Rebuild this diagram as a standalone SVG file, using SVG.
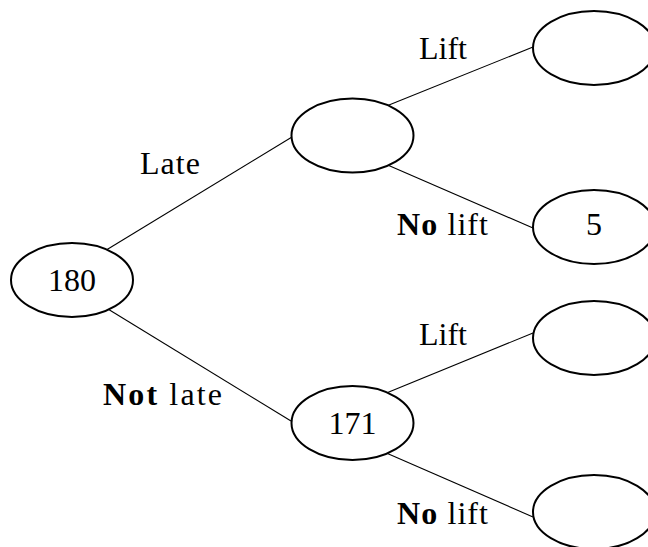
<svg xmlns="http://www.w3.org/2000/svg" width="648" height="547" viewBox="0 0 648 547">
<style>
.n{fill:#fff;stroke:#000;stroke-width:2}
.e{stroke:#000;stroke-width:1.1;fill:none}
text{font-family:"Liberation Serif","Times New Roman",serif;font-size:32px;fill:#000}
.c{text-anchor:middle}
.b{font-weight:bold}
</style>
<rect width="648" height="547" fill="#fff"/>
<g id="connectors">
<line class="e" x1="103" y1="252" x2="292" y2="137"/>
<line class="e" x1="103" y1="306" x2="291" y2="421"/>
<line class="e" x1="384" y1="107" x2="533" y2="47"/>
<line class="e" x1="383" y1="163" x2="533" y2="228"/>
<line class="e" x1="384" y1="394" x2="533" y2="333"/>
<line class="e" x1="384" y1="452" x2="533" y2="517"/>
</g>
<g id="root"><ellipse class="n" cx="72" cy="280" rx="61" ry="37"/><text class="c" x="72" y="291">180</text></g>
<g id="late"><ellipse class="n" cx="352.5" cy="135.5" rx="61" ry="37"/></g>
<g id="notlate"><ellipse class="n" cx="352.5" cy="423" rx="61" ry="37"/><text class="c" x="352.5" y="434">171</text></g>
<g id="late-lift"><ellipse class="n" cx="594" cy="48" rx="61" ry="37"/></g>
<g id="late-nolift"><ellipse class="n" cx="594" cy="227" rx="61" ry="37"/><text class="c" x="594" y="235">5</text></g>
<g id="notlate-lift"><ellipse class="n" cx="594" cy="338" rx="61" ry="37"/></g>
<g id="notlate-nolift"><ellipse class="n" cx="594" cy="512" rx="61" ry="37"/></g>
<g id="labels">
<text x="140" y="174" textLength="60">Late</text>
<text x="103" y="405" textLength="119"><tspan class="b">Not</tspan> late</text>
<text x="419" y="59" textLength="48">Lift</text>
<text x="397" y="235" textLength="91"><tspan class="b">No</tspan> lift</text>
<text x="419" y="345" textLength="48">Lift</text>
<text x="397" y="524" textLength="91"><tspan class="b">No</tspan> lift</text>
</g>
</svg>
